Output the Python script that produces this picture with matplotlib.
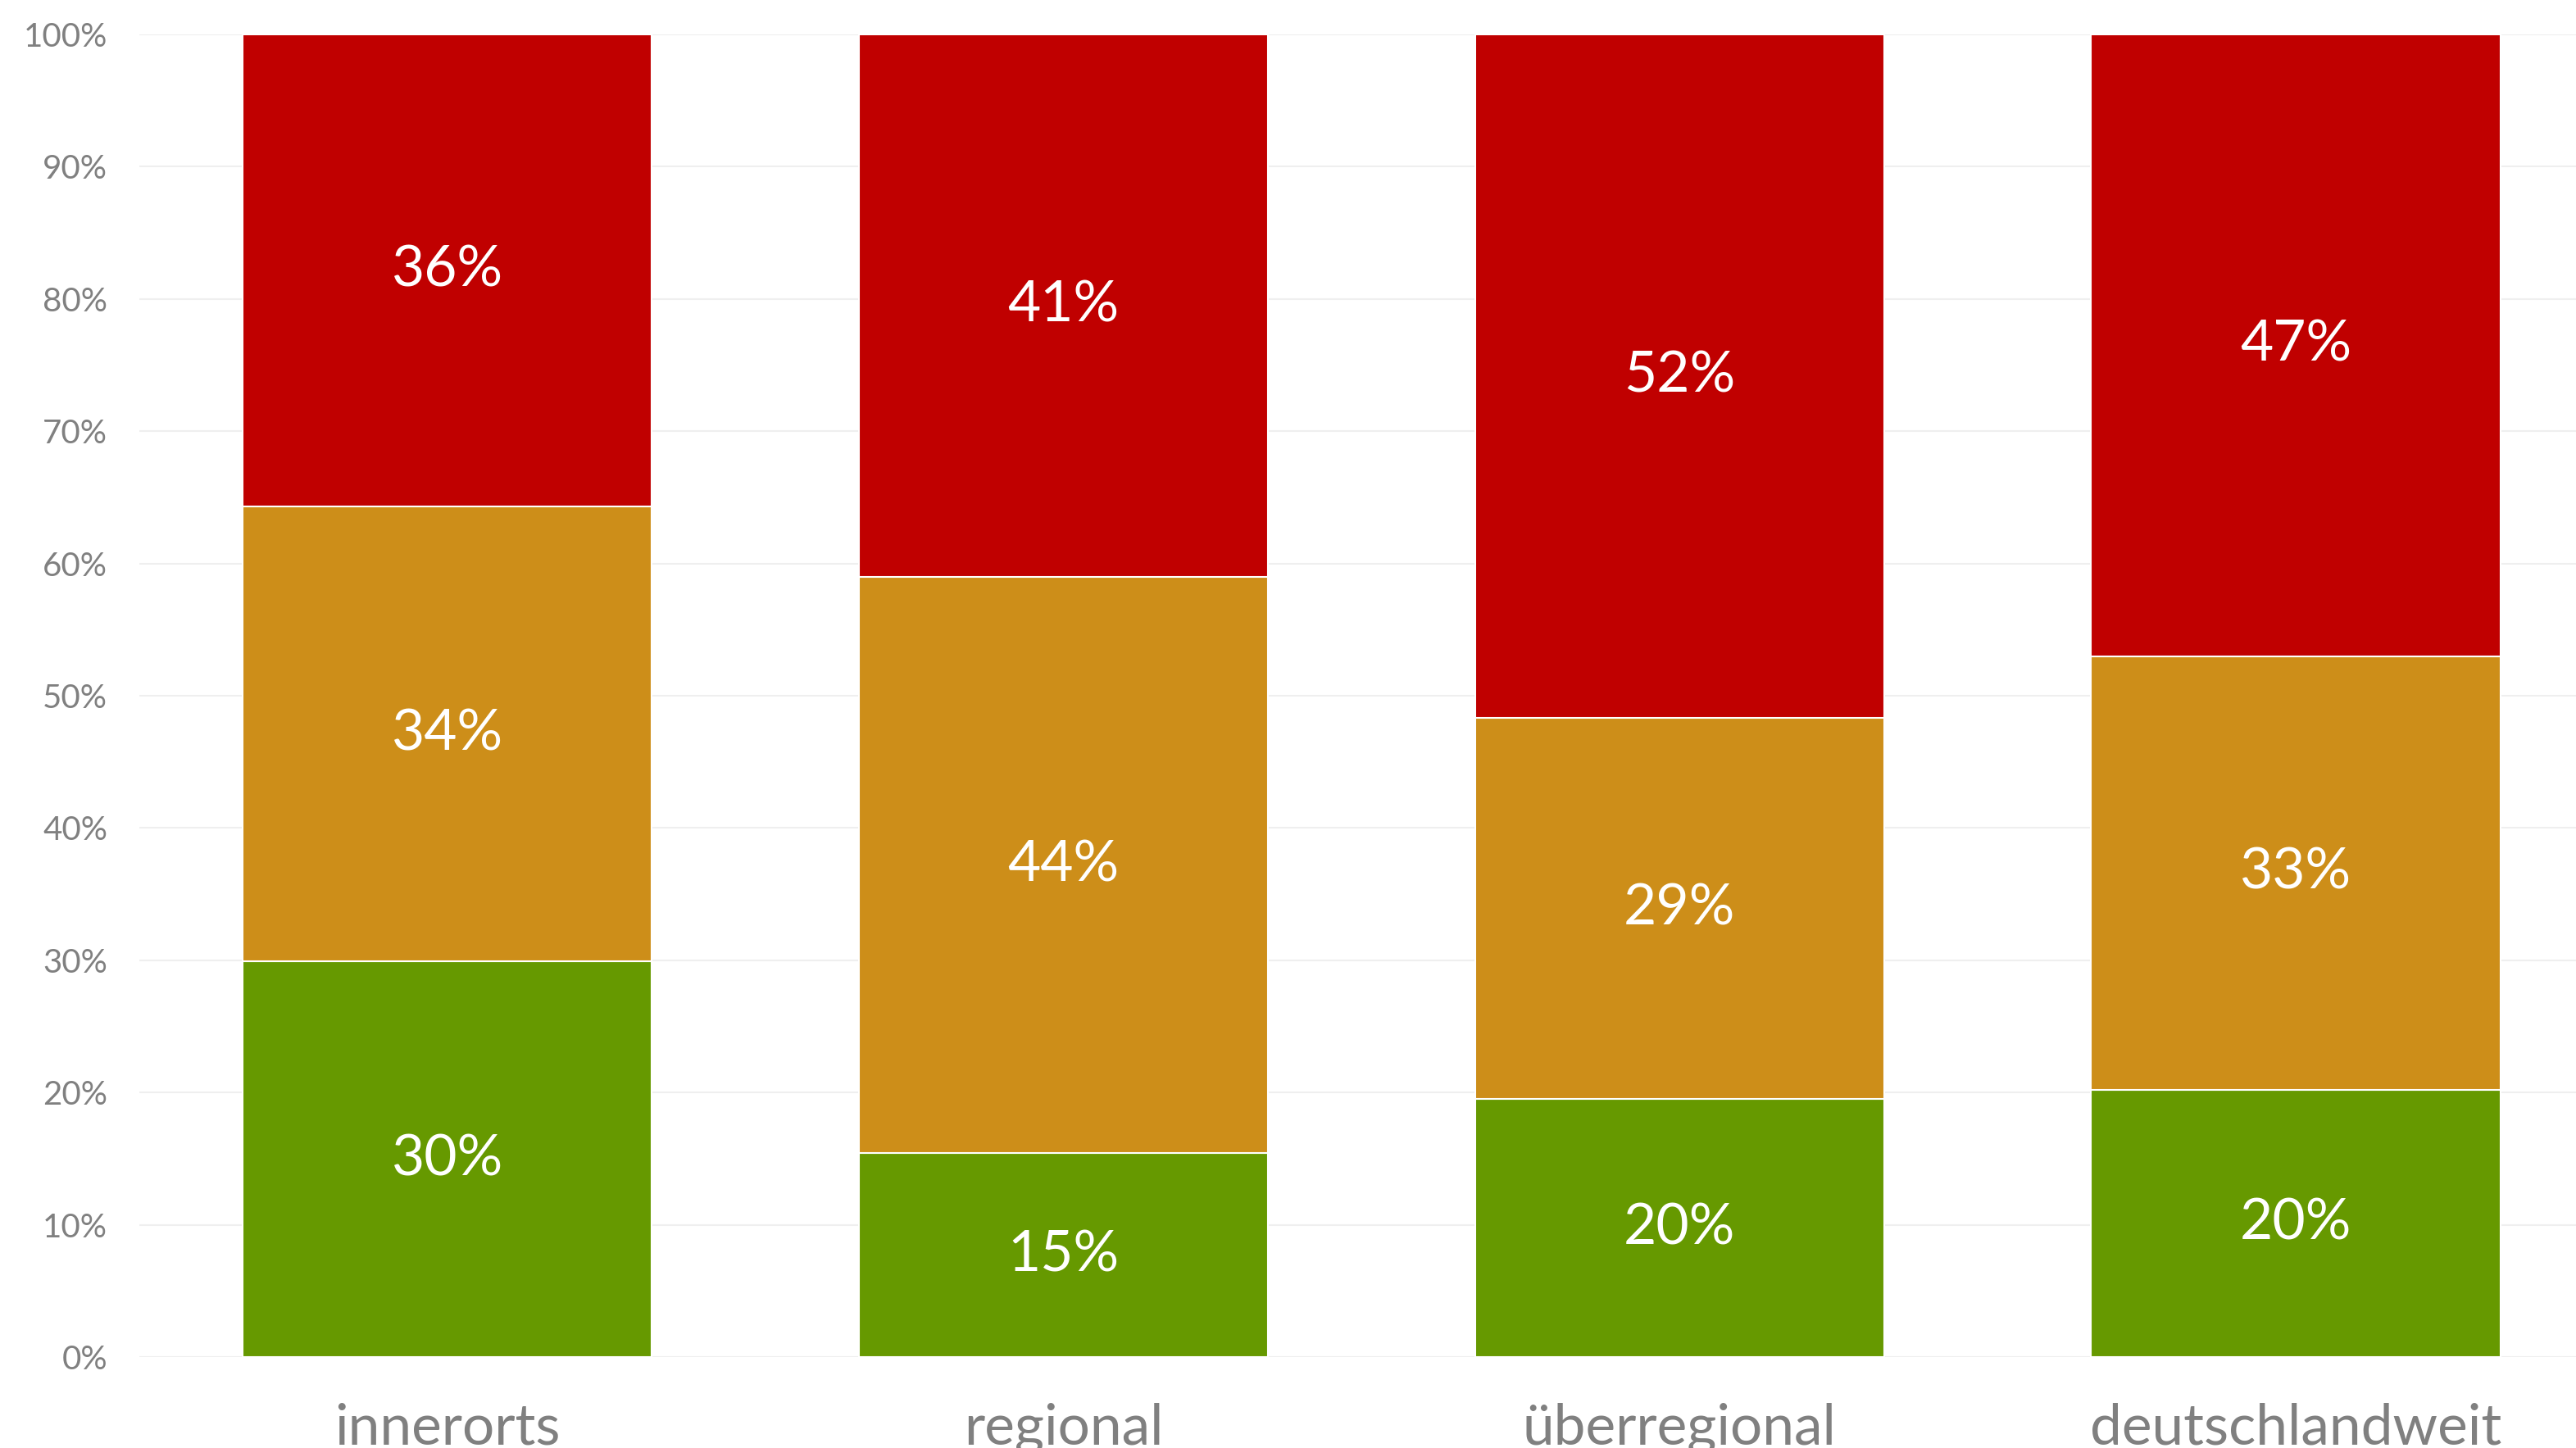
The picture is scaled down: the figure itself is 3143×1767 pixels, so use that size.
import matplotlib.pyplot as plt
import numpy as np

categories = ['innerorts', 'regional', 'überregional', 'deutschlandweit']
gruen = [29.9, 15.4, 19.5, 20.2]
orange = [34.4, 43.6, 28.8, 32.8]
rot = [35.7, 41.0, 51.7, 47.0]

farben = ['#669900', '#CD8E19', '#C00000']
yticks = list(range(0, 101, 10))

plt.rcParams['font.family'] = ['Lato', 'DejaVu Sans']

fig = plt.figure(figsize=(31.43, 17.67), dpi=100)
ax = fig.add_axes([0.0541, 0.0628, 0.9459, 0.9134])

x = np.arange(len(categories))
unten = np.zeros(len(categories))
for werte, farbe in zip([gruen, orange, rot], farben):
    werte = np.array(werte)
    ax.bar(x, werte, width=0.664, bottom=unten, color=farbe,
           edgecolor='white', linewidth=1.5, zorder=3)
    for xi, b, w in zip(x, unten, werte):
        ax.text(xi, b + w / 2, f'{w:.0f}%', ha='center', va='center',
                color='white', fontsize=50, zorder=4)
    unten = unten + werte

ax.set_xlim(-0.5, 3.455)
ax.set_ylim(0, 100)
ax.set_yticks(yticks)
ax.set_yticklabels([f'{t}%' for t in yticks])
ax.set_xticks(x)
ax.set_xticklabels(categories)
ax.grid(axis='y', color='#EFEFEF', linewidth=1.5, zorder=0)
ax.tick_params(axis='y', length=0, pad=28, labelsize=29, labelcolor='#808080')
ax.tick_params(axis='x', length=0, pad=40, labelsize=50, labelcolor='#808080')
for s in ax.spines.values():
    s.set_visible(False)

fig.savefig('out.png', dpi=100)
